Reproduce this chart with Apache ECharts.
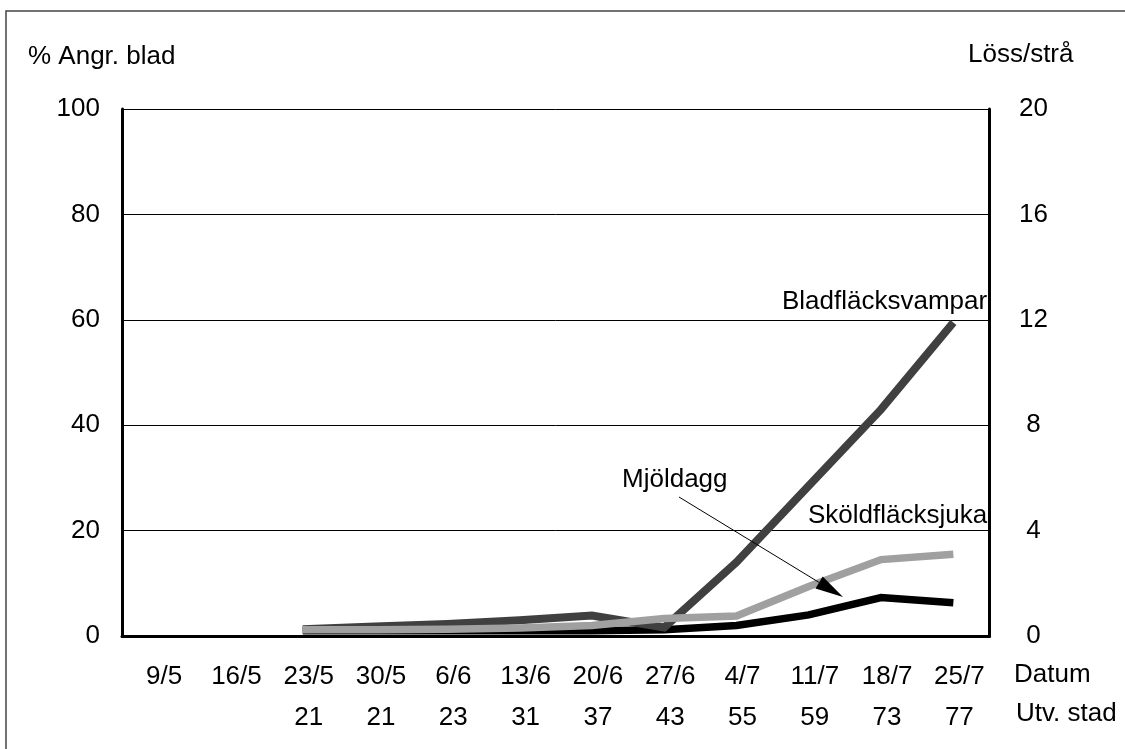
<!DOCTYPE html>
<html>
<head>
<meta charset="utf-8">
<script src="https://cdn.jsdelivr.net/npm/echarts@6/dist/echarts.min.js"></script>
<style>
  html, body { margin: 0; padding: 0; background: #fff; }
  #chart { width: 1125px; height: 749px; }
</style>
</head>
<body>
<div id="chart"></div>
<script>
// Sampling dates and growth stage (Utv. stad) per date
const dates = ['9/5', '16/5', '23/5', '30/5', '6/6', '13/6', '20/6', '27/6', '4/7', '11/7', '18/7', '25/7'];
const stages = ['', '', '21', '21', '23', '31', '37', '43', '55', '59', '73', '77'];

// % infested leaves per disease
const bladflacksvampar = [null, null, 1.3, 1.8, 2.3, 3.0, 3.9, 1.6, 14, 28.5, 43, 59.5];
const skoldflacksjuka  = [null, null, 1.2, 1.2, 1.3, 1.5, 2.0, 3.3, 3.8, 9.4, 14.5, 15.5];
const mjoldagg         = [null, null, 1.0, 1.0, 1.0, 1.0, 1.0, 1.2, 2.0, 4.0, 7.3, 6.3];

// Axis ranges
const leftMax = 100, leftStep = 20;
const rightMax = 20, rightStep = 4;

const FONT = 'Liberation Sans';
const FS = 26;

const chart = echarts.init(document.getElementById('chart'), null, { renderer: 'canvas' });

function label(text, x, y) {
  return {
    type: 'text', left: x, top: y - FS / 2,
    style: { text: text, font: FS + 'px "' + FONT + '"', fill: '#000' },
    z: 10
  };
}

// arrow from "Mjöldagg" down to its line
const arrowStart = [679, 497], arrowTip = [843, 597];
const dx = arrowTip[0] - arrowStart[0], dy = arrowTip[1] - arrowStart[1];
const len = Math.hypot(dx, dy), ux = dx / len, uy = dy / len;
const headLen = 28, headHalf = 7;
const bx = arrowTip[0] - ux * headLen, by = arrowTip[1] - uy * headLen;

const option = {
  animation: false,
  backgroundColor: '#fff',
  textStyle: { fontFamily: FONT },
  grid: { left: 122, right: 135.5, top: 109, bottom: 113, containLabel: false },
  xAxis: [
    {
      type: 'category', data: dates, position: 'bottom', boundaryGap: true,
      axisLine: { show: true, lineStyle: { color: '#000', width: 3 } },
      axisTick: { show: false },
      axisLabel: { interval: 0, fontSize: FS, fontFamily: FONT, color: '#000', margin: 28,
                   lineHeight: FS, padding: [0, 0, 0, 12] },
      splitLine: { show: false }
    },
    {
      type: 'category', data: stages, position: 'bottom', offset: 41, boundaryGap: true,
      axisLine: { show: false }, axisTick: { show: false },
      axisLabel: { interval: 0, fontSize: FS, fontFamily: FONT, color: '#000', margin: 28,
                   lineHeight: FS, padding: [0, 0, 0, 12] },
      splitLine: { show: false }
    }
  ],
  yAxis: [
    {
      type: 'value', min: 0, max: leftMax, interval: leftStep, position: 'left',
      axisLine: { show: true, lineStyle: { color: '#000', width: 3 } },
      axisTick: { show: false },
      axisLabel: { fontSize: FS, fontFamily: FONT, color: '#000', margin: 22, padding: [0, 0, 8, 0] },
      splitLine: { show: true, lineStyle: { color: '#000', width: 1 } }
    },
    {
      type: 'value', min: 0, max: rightMax, interval: rightStep, position: 'right',
      axisLine: { show: true, lineStyle: { color: '#000', width: 3 } },
      axisTick: { show: false },
      axisLabel: { fontSize: FS, fontFamily: FONT, color: '#000', margin: 44, align: 'center', padding: [0, 0, 8, 0] },
      splitLine: { show: false }
    }
  ],
  series: [
    {
      name: 'Mjöldagg', type: 'line', data: mjoldagg, yAxisIndex: 0,
      symbol: 'none', smooth: false, z: 2,
      lineStyle: { color: '#000000', width: 7.5, cap: 'butt', join: 'miter' }
    },
    {
      name: 'Bladfläcksvampar', type: 'line', data: bladflacksvampar, yAxisIndex: 0,
      symbol: 'none', smooth: false, z: 3,
      lineStyle: { color: '#404040', width: 8, cap: 'butt', join: 'miter' }
    },
    {
      name: 'Sköldfläcksjuka', type: 'line', data: skoldflacksjuka, yAxisIndex: 0,
      symbol: 'none', smooth: false, z: 4,
      lineStyle: { color: '#a0a0a0', width: 7.5, cap: 'butt', join: 'miter' }
    }
  ],
  graphic: [
    // outer frame
    { type: 'rect', shape: { x: 6, y: 11, width: 1200, height: 800 },
      style: { fill: 'none', stroke: '#444', lineWidth: 1.5 }, z: 0 },
    label('% Angr. blad', 28, 57),
    label('Löss/strå', 968, 55),
    label('Datum', 1014, 675),
    label('Utv. stad', 1016, 714),
    label('Bladfläcksvampar', 782, 302),
    label('Mjöldagg', 622, 480),
    label('Sköldfläcksjuka', 808, 516),
    { type: 'line', shape: { x1: arrowStart[0], y1: arrowStart[1], x2: bx, y2: by },
      style: { stroke: '#000', lineWidth: 1 }, z: 10 },
    { type: 'polygon', shape: { points: [
        [arrowTip[0], arrowTip[1]],
        [bx - uy * headHalf, by + ux * headHalf],
        [bx + uy * headHalf, by - ux * headHalf]
      ] }, style: { fill: '#000' }, z: 10 }
  ]
};

chart.setOption(option);
</script>
</body>
</html>
